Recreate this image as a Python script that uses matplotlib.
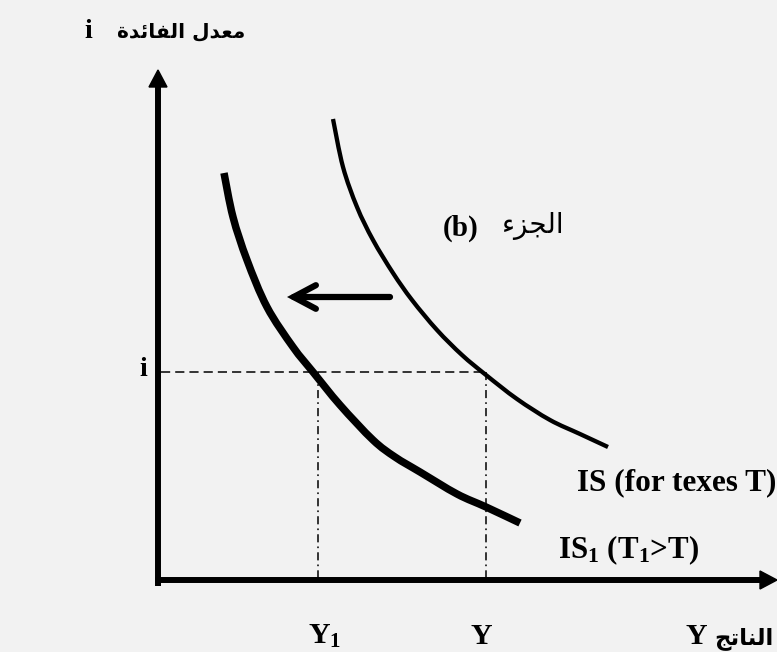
import matplotlib
matplotlib.use("Agg")
import matplotlib.pyplot as plt
from matplotlib.path import Path
from matplotlib.patches import PathPatch

# ---- data (diagram coordinates, pixel-like units) ----
is_x = [333, 343, 357, 373, 393, 412, 437, 462, 486, 517, 550, 580, 608]
is_y = [119, 167, 207, 240, 273, 300, 330, 355, 375, 399, 420, 434, 447]

is1_x = [224, 233, 247, 267, 293, 313, 340, 373, 395, 420, 457, 486, 520]
is1_y = [173, 217, 260, 307, 347, 372, 405, 440, 457, 472, 494, 507, 523]

i_level = 372
y1_level = 318
y_level = 486

origin_x, origin_y = 158, 580
yaxis_top = 70
xaxis_right = 777

shift_from = (390, 297)
shift_to = (287, 297)

AR_TOP = "\uFE93\uFEAA\uFE8B\uFE8E\uFED4\uFEDF\uFE8D \uFEDD\uFEAA\uFECC\uFEE3"  # معدل الفائدة
AR_PART = "\uFE80\uFEB0\uFEA0\uFEDF\uFE8D"  # الجزء
AR_OUT = "\uFE9E\uFE97\uFE8E\uFEE8\uFEDF\uFE8D"  # الناتج

plt.rcParams['mathtext.fontset'] = 'custom'
plt.rcParams['mathtext.rm'] = 'Liberation Serif:bold'
plt.rcParams['mathtext.it'] = 'Liberation Serif:bold:italic'
plt.rcParams['mathtext.bf'] = 'Liberation Serif:bold'


def smooth_path(xs, ys):
    """Bezier path passing through the given points (Catmull-Rom tangents)."""
    pts = list(zip(xs, ys))
    verts = [pts[0]]
    codes = [Path.MOVETO]
    n = len(pts)
    for k in range(n - 1):
        p0 = pts[k - 1] if k > 0 else pts[k]
        p1 = pts[k]
        p2 = pts[k + 1]
        p3 = pts[k + 2] if k + 2 < n else pts[k + 1]
        c1 = (p1[0] + (p2[0] - p0[0]) / 6.0, p1[1] + (p2[1] - p0[1]) / 6.0)
        c2 = (p2[0] - (p3[0] - p1[0]) / 6.0, p2[1] - (p3[1] - p1[1]) / 6.0)
        verts += [c1, c2, p2]
        codes += [Path.CURVE4] * 3
    return Path(verts, codes)


W, H = 777, 652
fig = plt.figure(figsize=(W / 100, H / 100), dpi=100, facecolor='#f2f2f2')
ax = fig.add_axes([0, 0, 1, 1])
ax.set_xlim(0, W)
ax.set_ylim(H, 0)
ax.axis('off')
ax.set_facecolor('#f2f2f2')

# axes lines
ax.plot([origin_x, origin_x], [origin_y + 6, yaxis_top + 16], color='black', lw=4.3, solid_capstyle='butt')
ax.fill([origin_x - 9, origin_x + 9, origin_x], [yaxis_top + 17, yaxis_top + 17, yaxis_top], color='black')
ax.plot([origin_x - 3, xaxis_right - 16], [origin_y, origin_y], color='black', lw=4.3, solid_capstyle='butt')
ax.fill([xaxis_right - 17, xaxis_right - 17, xaxis_right], [origin_y - 9, origin_y + 9, origin_y], color='black')

# guide lines
ax.plot([origin_x + 3, y_level], [i_level, i_level], color='black', lw=1.1,
        linestyle=(0, (6.0, 3.3)))
for xv in (y1_level, y_level):
    ax.plot([xv, xv], [i_level, origin_y], color='black', lw=1.1,
            linestyle=(0, (5.3, 2.7, 1.1, 2.7)))

# curves
ax.add_patch(PathPatch(smooth_path(is_x, is_y), fill=False, edgecolor='black', lw=3.1,
                       joinstyle='round', capstyle='butt'))
ax.add_patch(PathPatch(smooth_path(is1_x, is1_y), fill=False, edgecolor='black', lw=5.4,
                       joinstyle='round', capstyle='butt'))

# shift arrow
ax.annotate('', xy=shift_to, xytext=shift_from,
            arrowprops=dict(arrowstyle='->,head_length=16,head_width=8.5', mutation_scale=1,
                            lw=4.5, color='black', shrinkA=0, shrinkB=0,
                            capstyle='round', joinstyle='miter'))

serif = 'Liberation Serif'
ar = 'DejaVu Sans'

# texts
ax.text(245, 32, AR_TOP, family=ar, weight='bold', fontsize=14.5, ha='right', va='center')
ax.text(88, 31, 'i', family=serif, weight='bold', fontsize=20, ha='center', va='center')
ax.text(143, 370, 'i', family=serif, weight='bold', fontsize=20, ha='center', va='center')

ax.text(443, 228, '(b)', family=serif, weight='bold', fontsize=21, ha='left', va='center')
ax.text(502, 226, AR_PART, family=ar, fontsize=20, ha='left', va='center')

ax.text(577, 490, 'IS (for texes T)', family=serif, weight='bold', fontsize=22.5, ha='left', va='baseline')
ax.text(558, 558, 'IS$_1$ (T$_1$>T)', family=serif, weight='bold', fontsize=22.3, ha='left', va='baseline')

ax.text(308, 644, 'Y$_1$', family=serif, weight='bold', fontsize=21.6, ha='left', va='baseline')
ax.text(481, 644, 'Y', family=serif, weight='bold', fontsize=21.6, ha='center', va='baseline')
ax.text(685, 644, 'Y', family=serif, weight='bold', fontsize=21.6, ha='left', va='baseline')
ax.text(773, 644, AR_OUT, family=ar, weight='bold', fontsize=16.5, ha='right', va='baseline')

fig.savefig('out.png', dpi=100, facecolor='#f2f2f2')
